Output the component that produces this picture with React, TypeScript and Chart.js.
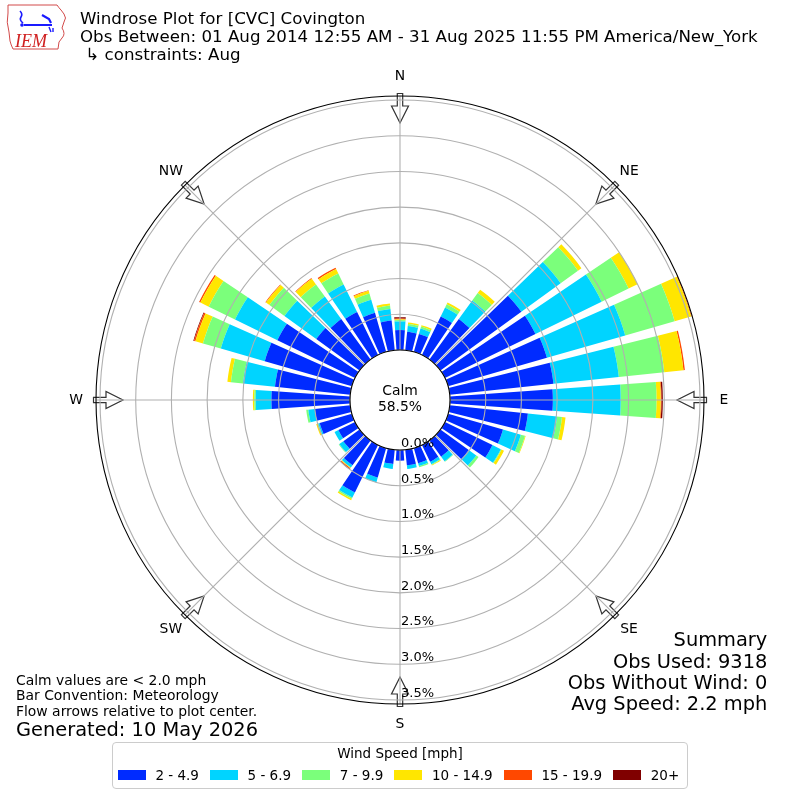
import React, { useEffect, useRef } from 'react';
import { Chart, registerables, PolarAreaController } from 'chart.js';

Chart.register(...registerables);

// ---------------- data ----------------
const DIRECTIONS = [0, 10, 20, 30, 40, 50, 60, 70, 80, 90, 100, 110, 120, 130, 140, 150, 160, 170,
  180, 190, 200, 210, 220, 230, 240, 250, 260, 270, 280, 290, 300, 310, 320, 330, 340, 350];
const COMPASS = ['N', 'NE', 'E', 'SE', 'S', 'SW', 'W', 'NW'];
const SPEED_LABELS = ['2 - 4.9', '5 - 6.9', '7 - 9.9', '10 - 14.9', '15 - 19.9', '20+'];
const SPEED_COLORS = ['#002bff', '#00d4ff', '#7bff7b', '#ffe600', '#ff4800', '#800000'];

// percent of observations per direction (0..350 step 10) for each speed bin
const SPD_2_5 = [0.28, 0.26, 0.26, 0.60, 0.70, 1.40, 1.41, 1.44, 1.46, 1.44, 1.10, 0.80, 0.74, 0.49, 0.28, 0.26, 0.22, 0.22,
  0.15, 0.20, 0.43, 0.74, 0.43, 0.28, 0.26, 0.47, 0.50, 1.10, 1.06, 1.27, 1.21, 0.75, 0.70, 0.67, 0.57, 0.42];
const SPD_5_7 = [0.12, 0.08, 0.08, 0.14, 0.32, 0.68, 1.03, 1.14, 0.92, 0.95, 0.41, 0.26, 0.13, 0.13, 0.08, 0.04, 0.04, 0.05,
  0.00, 0.07, 0.07, 0.08, 0.04, 0.07, 0.06, 0.02, 0.09, 0.22, 0.45, 0.64, 0.66, 0.55, 0.39, 0.43, 0.19, 0.16];
const SPD_7_10 = [0.02, 0.03, 0.03, 0.05, 0.13, 0.30, 0.42, 0.72, 0.64, 0.50, 0.07, 0.06, 0.01, 0.04, 0.01, 0.01, 0.02, 0.00,
  0.00, 0.00, 0.00, 0.02, 0.00, 0.01, 0.00, 0.01, 0.03, 0.02, 0.17, 0.26, 0.41, 0.26, 0.21, 0.17, 0.09, 0.05];
const SPD_10_15 = [0.01, 0.02, 0.02, 0.03, 0.06, 0.06, 0.14, 0.24, 0.27, 0.06, 0.05, 0.01, 0.04, 0.00, 0.00, 0.01, 0.00, 0.00,
  0.00, 0.00, 0.00, 0.02, 0.01, 0.00, 0.00, 0.02, 0.00, 0.02, 0.05, 0.11, 0.13, 0.06, 0.10, 0.07, 0.04, 0.03];
const SPD_15_20 = [0.01, 0.00, 0.00, 0.00, 0.00, 0.00, 0.00, 0.01, 0.02, 0.01, 0.00, 0.00, 0.00, 0.00, 0.00, 0.00, 0.00, 0.00,
  0.00, 0.00, 0.00, 0.00, 0.02, 0.00, 0.00, 0.00, 0.00, 0.00, 0.00, 0.02, 0.02, 0.01, 0.01, 0.02, 0.01, 0.00];
const SPD_20P = [0.02, 0.00, 0.00, 0.00, 0.00, 0.00, 0.00, 0.00, 0.00, 0.02, 0.00, 0.00, 0.00, 0.00, 0.00, 0.00, 0.00, 0.00,
  0.00, 0.00, 0.00, 0.00, 0.00, 0.00, 0.00, 0.00, 0.00, 0.00, 0.00, 0.01, 0.00, 0.00, 0.00, 0.00, 0.00, 0.00];

const CALM_PCT = 58.5;
const SUMMARY_LINES = ['Summary', 'Obs Used: 9318', 'Obs Without Wind: 0', 'Avg Speed: 2.2 mph'];
const NOTE_LINES = ['Calm values are < 2.0 mph', 'Bar Convention: Meteorology', 'Flow arrows relative to plot center.'];
const GENERATED = 'Generated: 10 May 2026';
const TITLE_LINES = ['Windrose Plot for [CVC] Covington',
  'Obs Between: 01 Aug 2014 12:55 AM - 31 Aug 2025 11:55 PM America/New_York',
  '\u00a0\u21b3 constraints: Aug'];

// scale config
const R_MIN = -0.7;
const R_MAX = 3.556;
const R_STEP = 0.5;
const OPENING = 0.8;

const FONT = '"DejaVu Sans", sans-serif';

// --------------- custom stacked polar-bar controller ---------------
class WindroseController extends (PolarAreaController as any) {
  static id = 'windrose';
  static defaults = { ...(PolarAreaController as any).defaults };
  static overrides = (PolarAreaController as any).overrides;

  updateElements(arcs: any[], start: number, count: number, mode: any) {
    const chart = this.chart;
    const scale: any = chart.scales.r;
    const datasets: any[] = chart.data.datasets;
    const dsIndex = this.index;
    const ds: any = datasets[dsIndex];
    const dirs: number[] = ds.directions;
    const half = (Math.PI * 2 / dirs.length) * OPENING / 2;
    for (let i = start; i < start + count; i++) {
      let base = 0;
      for (let j = 0; j < dsIndex; j++) base += datasets[j].data[i];
      const val = ds.data[i];
      const center = (dirs[i] - 90) * Math.PI / 180;
      const startAngle = center - half;
      const endAngle = center + half;
      const props = {
        x: scale.xCenter,
        y: scale.yCenter,
        innerRadius: scale.getDistanceFromCenterForValue(base),
        outerRadius: scale.getDistanceFromCenterForValue(base + val),
        startAngle,
        endAngle,
        circumference: endAngle - startAngle,
        options: this.resolveDataElementOptions(i, mode),
      };
      this.updateElement(arcs[i], i, props, mode);
    }
  }
}
Chart.register(WindroseController as any);

// --------------- decorations plugin ---------------
const decorPlugin = {
  id: 'windroseDecor',
  beforeDatasetsDraw(chart: any) {
    const scale = chart.scales.r;
    const ctx = chart.ctx;
    ctx.save();
    for (let i = 0; i < COMPASS.length; i++) {
      const a = scale.getIndexAngle(i) - Math.PI / 2;
      ctx.save();
      ctx.translate(scale.xCenter, scale.yCenter);
      ctx.rotate(a);
      const rt = scale.drawingArea + 2.5;
      ctx.beginPath();
      ctx.moveTo(rt, -2.7);
      ctx.lineTo(rt - 12.5, -2.7);
      ctx.lineTo(rt - 12.5, -8.5);
      ctx.lineTo(rt - 29.5, 0);
      ctx.lineTo(rt - 12.5, 8.5);
      ctx.lineTo(rt - 12.5, 2.7);
      ctx.lineTo(rt, 2.7);
      ctx.closePath();
      ctx.fillStyle = '#ffffff';
      ctx.fill();
      ctx.lineWidth = 1.2;
      ctx.strokeStyle = '#333333';
      ctx.stroke();
      ctx.restore();
    }
    ctx.restore();
  },
  afterDraw(chart: any) {
    const scale = chart.scales.r;
    const ctx = chart.ctx;
    const xc = scale.xCenter;
    const yc = scale.yCenter;
    ctx.save();
    // outer spine
    ctx.beginPath();
    ctx.arc(xc, yc, scale.drawingArea, 0, Math.PI * 2);
    ctx.strokeStyle = '#000000';
    ctx.lineWidth = 1.1;
    ctx.stroke();
    // calm hole
    const hole = scale.getDistanceFromCenterForValue(0);
    ctx.beginPath();
    ctx.arc(xc, yc, hole, 0, Math.PI * 2);
    ctx.fillStyle = '#ffffff';
    ctx.fill();
    ctx.lineWidth = 1.1;
    ctx.strokeStyle = '#000000';
    ctx.stroke();
    ctx.fillStyle = '#000000';
    ctx.textAlign = 'center';
    ctx.textBaseline = 'middle';
    ctx.font = `13.9px ${FONT}`;
    ctx.fillText('Calm', xc, yc - 8.5);
    ctx.fillText(`${CALM_PCT.toFixed(1)}%`, xc, yc + 7.5);
    // compass labels
    for (let i = 0; i < COMPASS.length; i++) {
      const p = scale.getPointPosition(i, scale.drawingArea + 20);
      ctx.fillText(COMPASS[i], p.x, p.y);
    }
    // radial tick labels
    ctx.font = `13px ${FONT}`;
    ctx.textAlign = 'left';
    scale.ticks.forEach((t: any) => {
      if (t.value < 0) return;
      const r = scale.getDistanceFromCenterForValue(t.value);
      ctx.fillText(`${t.value.toFixed(1)}%`, xc + 1, yc + r - 6.5);
    });
    ctx.restore();
  },
};

const datasets = [SPD_2_5, SPD_5_7, SPD_7_10, SPD_10_15, SPD_15_20, SPD_20P].map((arr, k) => ({
  label: SPEED_LABELS[k],
  data: arr,
  directions: DIRECTIONS,
  backgroundColor: SPEED_COLORS[k],
  borderWidth: 0,
}));

function Logo() {
  return (
    <svg width={66} height={54} style={{ position: 'absolute', left: 2, top: 1 }} viewBox="0 0 66 54">
      <path d="M6,4 L55,4 Q57,7 59,9 L62,13 Q65,17 62,21 L60,27 Q64,33 60,37 L57,41 L56,48 L11,48 Q9,44 8,40 L7,31 Q4,21 6,12 Z"
        fill="none" stroke="#d24a4a" strokeWidth={1} />
      <path d="M18,10 q3,3 1,6 q-2,3 2,6" fill="none" stroke="#1a1aff" strokeWidth={1.6} />
      <circle cx={20} cy={24} r={1.8} fill="#1a1aff" />
      <line x1={22} y1={24} x2={50} y2={24} stroke="#1a1aff" strokeWidth={2} />
      <path d="M40,14 L47,18 L49,22" fill="none" stroke="#1a1aff" strokeWidth={2.2} />
      <path d="M47,26 L49,31 M51,27 L51,31" fill="none" stroke="#1a1aff" strokeWidth={1.4} />
      <text x={13} y={46} fontFamily='"Liberation Serif", serif' fontStyle="italic" fontSize={18} fill="#d02020">IEM</text>
    </svg>
  );
}

export default function App() {
  const ref = useRef<HTMLCanvasElement>(null);
  useEffect(() => {
    const chart = new Chart(ref.current as HTMLCanvasElement, {
      type: 'windrose' as any,
      data: { labels: COMPASS, datasets: datasets as any },
      options: {
        responsive: false,
        animation: false,
        events: [],
        layout: { padding: 96 },
        plugins: { legend: { display: false }, tooltip: { enabled: false } },
        scales: {
          r: {
            type: 'radialLinear',
            min: R_MIN,
            max: R_MAX,
            startAngle: 0,
            ticks: { display: false, stepSize: R_STEP, includeBounds: false },
            grid: {
              z: 1,
              circular: true,
              lineWidth: 1.1,
              color: (c: any) => (c.tick && c.tick.value >= 0 ? '#b0b0b0' : 'rgba(0,0,0,0)'),
            },
            angleLines: { display: true, color: '#b0b0b0', lineWidth: 1.1 },
            pointLabels: { display: false },
          } as any,
        },
      } as any,
      plugins: [decorPlugin],
    });
    return () => chart.destroy();
  }, []);

  const abs = (extra: any) => ({ position: 'absolute', whiteSpace: 'nowrap', ...extra });

  return (
    <div style={{ position: 'absolute', left: 0, top: 0, width: 800, height: 800, background: '#fff', overflow: 'hidden', fontFamily: FONT, color: '#000' }}>
      <canvas ref={ref} width={800} height={800} style={{ position: 'absolute', left: 0, top: 0, width: 800, height: 800 }} />
      <Logo />
      <div style={abs({ left: 80, top: 10.9, fontSize: 16.67, lineHeight: '16.67px' })}>{TITLE_LINES[0]}</div>
      <div style={abs({ left: 80, top: 29.2, fontSize: 16.67, lineHeight: '16.67px' })}>{TITLE_LINES[1]}</div>
      <div style={abs({ left: 80, top: 46.9, fontSize: 16.67, lineHeight: '16.67px' })}>{TITLE_LINES[2]}</div>

      {NOTE_LINES.map((t, i) => (
        <div key={t} style={abs({ left: 16, top: 673.9 + i * 15.5, fontSize: 13.9, lineHeight: '13.9px' })}>{t}</div>
      ))}
      <div style={abs({ left: 16, top: 719.5, fontSize: 19.4, lineHeight: '19.4px' })}>{GENERATED}</div>

      {SUMMARY_LINES.map((t, i) => (
        <div key={t} style={abs({ right: 32.7, top: 630.3 + i * 21.3, fontSize: 19.4, lineHeight: '19.4px', textAlign: 'right' })}>{t}</div>
      ))}

      <div style={{ position: 'absolute', left: 112, top: 742, width: 576, height: 47, border: '1px solid #cccccc', borderRadius: 4, boxSizing: 'border-box', background: '#fff' }}>
        <div style={abs({ left: 0, right: 0, top: 3.5, textAlign: 'center', fontSize: 13.5, lineHeight: '13.5px' })}>Wind Speed [mph]</div>
        <div style={abs({ left: 4.7, top: 25.5, display: 'flex', alignItems: 'center' })}>
          {SPEED_LABELS.map((lab, k) => (
            <div key={lab} style={{ display: 'flex', alignItems: 'center', marginRight: 11, height: 13.5 }}>
              <span style={{ display: 'inline-block', width: 28, height: 10, background: SPEED_COLORS[k], marginRight: 9.7 }} />
              <span style={{ fontSize: 13.5, lineHeight: '13.5px' }}>{lab}</span>
            </div>
          ))}
        </div>
      </div>
    </div>
  );
}
